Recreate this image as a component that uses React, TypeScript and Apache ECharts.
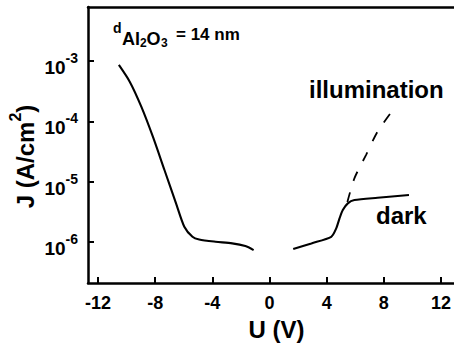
import React, { useEffect, useRef } from "react";
import * as echarts from "echarts";

// Reverse-bias branch (dark), U in V, J in A/cm^2
const reverseU = [-10.54, -9.78, -8.97, -8.16, -7.35, -6.54, -5.96, -5.39, -4.92, -3.77, -2.61, -1.69, -1.11];
const reverseJ = [8.6e-4, 4.54e-4, 1.75e-4, 5.56e-5, 1.56e-5, 4.37e-6, 1.79e-6, 1.22e-6, 1.1e-6, 1.01e-6, 9.5e-7, 8.55e-7, 7.35e-7];
// Forward-bias branch (dark)
const forwardU = [1.66, 2.93, 4.32, 4.67, 4.9, 5.13, 5.48, 5.94, 7.56, 9.76];
const forwardJ = [7.62e-7, 9.48e-7, 1.22e-6, 1.68e-6, 2.46e-6, 3.38e-6, 4.37e-6, 4.95e-6, 5.41e-6, 6.0e-6];
// Forward-bias branch under illumination
const illumU = [5.45, 5.94, 6.75, 7.56, 8.72];
const illumJ = [4.6e-6, 1.135e-5, 2.76e-5, 6.73e-5, 1.64e-4];

const xTicks = { min: -12, max: 12, interval: 4 };
const yTicks = { min: 1e-6, max: 1e-3 };

const FONT = '"Liberation Sans", Arial, sans-serif';

function pairs(u: number[], j: number[]) {
  return u.map((x, i) => [x, j[i]]);
}

export default function App() {
  const ref = useRef<HTMLDivElement>(null);
  useEffect(() => {
    document.body.style.margin = "0";
    const chart = echarts.init(ref.current!, null, { renderer: "svg" });
    const frameAxis = {
      type: "value",
      gridIndex: 1,
      min: 0,
      max: 1,
      axisLine: { show: true, onZero: false, lineStyle: { color: "#000", width: 2.5 } },
      axisTick: { show: false },
      axisLabel: { show: false },
      splitLine: { show: false },
    };
    chart.setOption({
      animation: false,
      backgroundColor: "#fff",
      grid: [
        { left: 98, right: 10, top: 61, bottom: 108 },
        { left: 88, right: 0, top: 7, bottom: 67 },
      ],
      xAxis: [
        {
          type: "value",
          gridIndex: 0,
          min: xTicks.min,
          max: xTicks.max,
          interval: xTicks.interval,
          position: "bottom",
          offset: 41,
          axisLine: { show: false, onZero: false },
          axisTick: { show: true, inside: true, length: 6, lineStyle: { color: "#000", width: 2 } },
          axisLabel: { show: true, margin: 11, color: "#000", fontSize: 18, fontWeight: "bold", fontFamily: FONT },
          splitLine: { show: false },
        },
        { ...frameAxis, position: "bottom" },
        { ...frameAxis, position: "top" },
      ],
      yAxis: [
        {
          type: "log",
          logBase: 10,
          gridIndex: 0,
          min: yTicks.min,
          max: yTicks.max,
          position: "left",
          offset: 10,
          axisLine: { show: false, onZero: false },
          axisTick: { show: true, inside: true, length: 6, lineStyle: { color: "#000", width: 2 } },
          axisLabel: {
            show: true,
            margin: 10,
            padding: [6, 0, 0, 0],
            formatter: (v: number) => `{b|10}{s|${Math.round(Math.log10(v))}}`,
            rich: {
              b: { fontSize: 19, fontWeight: "bold", fontFamily: FONT, color: "#000", verticalAlign: "bottom" },
              s: { fontSize: 14, fontWeight: "bold", fontFamily: FONT, color: "#000", verticalAlign: "top", padding: [0, 0, 12, 0] },
            },
          },
          splitLine: { show: false },
        },
        { ...frameAxis, position: "left" },
      ],
      series: [
        {
          name: "dark",
          type: "line",
          xAxisIndex: 0,
          yAxisIndex: 0,
          data: pairs(reverseU, reverseJ),
          showSymbol: false,
          symbol: "none",
          smooth: 0.25,
          clip: false,
          lineStyle: { color: "#000", width: 2.1 },
        },
        {
          name: "dark",
          type: "line",
          xAxisIndex: 0,
          yAxisIndex: 0,
          data: pairs(forwardU, forwardJ),
          showSymbol: false,
          symbol: "none",
          smooth: 0.25,
          clip: false,
          lineStyle: { color: "#000", width: 2.1 },
        },
        {
          name: "illumination",
          type: "line",
          xAxisIndex: 0,
          yAxisIndex: 0,
          data: pairs(illumU, illumJ),
          showSymbol: false,
          symbol: "none",
          smooth: 0.25,
          clip: false,
          lineStyle: { color: "#000", width: 1.8, type: [10, 12] },
        },
      ],
      graphic: [
        { type: "text", x: 113, y: 28.4, style: { text: "d", font: `bold 14px ${FONT}`, fill: "#000", textAlign: "left", textVerticalAlign: "middle" } },
        { type: "text", x: 122, y: 39, style: { text: "Al", font: `bold 18px ${FONT}`, fill: "#000", textAlign: "left", textVerticalAlign: "middle" } },
        { type: "text", x: 140, y: 43, style: { text: "2", font: `bold 12px ${FONT}`, fill: "#000", textAlign: "left", textVerticalAlign: "middle" } },
        { type: "text", x: 146.5, y: 39, style: { text: "O", font: `bold 18px ${FONT}`, fill: "#000", textAlign: "left", textVerticalAlign: "middle" } },
        { type: "text", x: 161, y: 43, style: { text: "3", font: `bold 12px ${FONT}`, fill: "#000", textAlign: "left", textVerticalAlign: "middle" } },
        { type: "text", x: 176, y: 34.7, style: { text: "= 14 nm", font: `bold 17px ${FONT}`, fill: "#000", textAlign: "left", textVerticalAlign: "middle" } },
        { type: "text", x: 309, y: 89, style: { text: "illumination", font: `bold 24px ${FONT}`, fill: "#000", textAlign: "left", textVerticalAlign: "middle" } },
        { type: "text", x: 376, y: 215, style: { text: "dark", font: `bold 24px ${FONT}`, fill: "#000", textAlign: "left", textVerticalAlign: "middle" } },
        { type: "text", x: 276.5, y: 329, style: { text: "U (V)", font: `bold 24px ${FONT}`, fill: "#000", textAlign: "center", textVerticalAlign: "middle" } },
        {
          type: "text",
          x: 22,
          y: 156.5,
          rotation: Math.PI / 2,
          style: {
            text: "{m|J (A/cm}{s|2}{m|)}",
            fill: "#000",
            textAlign: "center",
            textVerticalAlign: "middle",
            rich: {
              m: { fontSize: 24, fontWeight: "bold", fontFamily: FONT, fill: "#000", verticalAlign: "bottom" },
              s: { fontSize: 16, fontWeight: "bold", fontFamily: FONT, fill: "#000", verticalAlign: "top", padding: [0, 0, 14, 0] },
            },
          },
        },
      ],
    });
    return () => chart.dispose();
  }, []);
  return <div ref={ref} style={{ width: 454, height: 350 }} />;
}
